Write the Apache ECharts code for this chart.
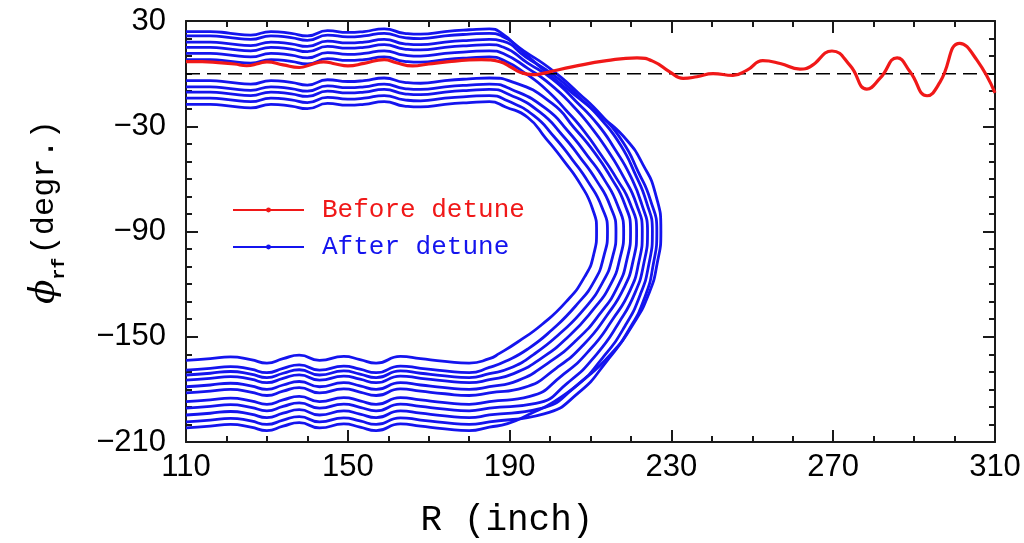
<!DOCTYPE html>
<html>
<head>
<meta charset="utf-8">
<script src="https://cdn.jsdelivr.net/npm/echarts@6/dist/echarts.min.js"></script>
<style>html,body{margin:0;padding:0;background:#fff}#c{width:1024px;height:543px}</style>
</head>
<body>
<div id="c"></div>
<script>
// ---- data ----
const xMin = 110, xMax = 310, xStep = 40;
const yMin = -210, yMax = 30, yStep = 60;

// Before detune (red)
const redR   = [110,114,118,122,125,128,130,134,138,141,144,147,150,154,159,162,166,170,175,180,183,187.6,190.5,192.6,195.8,198,200,205.7,214,221.5,225.5,229.6,232.9,236.3,240.3,245.2,248.7,252.6,256.9,261.8,264.3,269.7,274.2,278.3,281.6,285.8,289,293.2,296.4,301.3,305.5,310];
const redPhi = [6.8,6.8,6.3,5.5,4.5,5.8,6.7,5,3.5,5.2,6.7,5.5,4.4,5.8,8,6.2,4.4,5.5,6.8,7.8,8,6.8,3.5,0.8,-0.6,0,1.1,4,7.4,9,7,1,-2.7,-1.8,0,-1,2,7.4,5.8,2.6,3.9,12.9,4.6,-8.8,-2.6,9,1.1,-12.6,-4.9,17.3,7.8,-11];

// After detune (blue), 11 trajectories: upper branch, turn, lower branch
const topR = [110,116,121,126,131,136,140,145,150,154,159,164,168,174,180,185];
const blueTop = [
  [-17.5,-17.5,-18.5,-19.5,-17.5,-18.5,-20,-17,-18,-17.5,-16,-18.5,-19,-17.5,-16.5,-16],
  [-14,-14,-15,-16,-14,-15,-16.5,-13.5,-14.5,-14,-12.5,-15,-15.5,-14,-13,-12.5],
  [-10.5,-10.5,-11.5,-12.5,-10.5,-11.5,-13,-10,-11,-10.5,-9,-11.5,-12,-10.5,-9.5,-9],
  [-7.5,-7.5,-8.5,-9.5,-7.5,-8.5,-10,-7,-8,-7.5,-6,-8.5,-9,-7.5,-6.5,-6],
  [-4,-4,-5,-6,-4,-5,-6.5,-3.5,-4.5,-4,-2.5,-5,-5.5,-4,-3,-2.5],
  [8,8,7,6,8,7,5.5,8.5,7.5,8,9.5,7,6.5,8,9,9.5],
  [11.5,11.5,10.5,9.5,11.5,10.5,9,12,11,11.5,13,10.5,10,11.5,12.5,13],
  [15,15,14,13,15,14,12.5,15.5,14.5,15,16.5,14,13.5,15,16,16.5],
  [18,18,17,16,18,17,15.5,18.5,17.5,18,19.5,17,16.5,18,19,19.5],
  [21.5,21.5,20.5,19.5,21.5,20.5,19,22,21,21.5,23,20.5,20,21.5,22.5,23],
  [24,24,23,22,24,23,21.5,24.5,23.5,24,25.5,23,22.5,24,25,25.5]
];
const blueTurn = [
  [[189,-19],[194.5,-25],[199,-37],[203.5,-50],[207.5,-63],[210.5,-77],[211.5,-90],[210.8,-103],[208.5,-116],[204,-130],[198,-143],[192,-153],[187.5,-159.5]],
  [[189.5,-15.5],[196,-24],[201,-36],[205.5,-49],[209.5,-62],[212.8,-76],[214.2,-90],[213.3,-104],[211,-118],[206.5,-132],[200.5,-146],[194.5,-157],[189,-164]],
  [[190,-12],[197.5,-22],[203,-35],[207.5,-48],[211.5,-61],[214.8,-75],[216.3,-90],[215.4,-105],[213,-119],[208.5,-134],[202.5,-148],[196,-160],[190,-168]],
  [[190.5,-9],[199,-20],[204.5,-33],[209.3,-47],[213.3,-60],[216.7,-75],[218.2,-90],[217.3,-105],[215,-120],[210.5,-135],[204.5,-150],[198,-162],[191,-171]],
  [[191,-5],[200.5,-17],[206,-31],[211,-45],[215,-59],[218.4,-74],[219.9,-90],[219,-106],[216.8,-121],[212.3,-137],[206.5,-152],[199.5,-165],[192,-175]],
  [[189,7],[194,0],[199,-9],[204,-21],[208.5,-33],[212.5,-46],[216.5,-60],[219.8,-74],[221.4,-90],[220.5,-107],[218.3,-122],[214,-138],[208.5,-154],[201.5,-168],[193.5,-179]],
  [[188.8,11],[194.5,3],[200,-6],[205.5,-18],[210.3,-31],[214.3,-44],[218.2,-59],[221.3,-74],[222.8,-90],[221.9,-108],[219.7,-124],[215.5,-140],[210,-157],[203,-172],[195,-184]],
  [[188.5,15],[194.5,6],[200.5,-3],[206.5,-16],[211.8,-29],[216,-43],[219.8,-58],[222.6,-74],[224.1,-90],[223.2,-108],[221,-125],[217,-142],[211.5,-160],[204.5,-176],[196.5,-188]],
  [[188.3,18.5],[194,9.5],[201,-1],[207.5,-14],[213,-27],[217.5,-41],[221,-57],[223.8,-73],[225.3,-90],[224.4,-109],[222.3,-126],[218.5,-144],[213,-162],[206,-179],[197.5,-191]],
  [[188,21.5],[193.5,13],[200.5,2],[207,-11],[212.8,-24],[218,-39],[221.8,-56],[224.8,-72],[226.4,-90],[225.5,-109],[223.5,-127],[219.5,-146],[214,-164],[207,-182],[198.5,-194]],
  [[188,23],[193,13],[199,1],[206,-12],[213,-25],[219,-38],[223,-52],[226,-68],[227.4,-90],[226.5,-108],[224.5,-125],[220.5,-143],[215,-160],[208,-175],[201,-187],[195,-194],[189.5,-199.5]]
];
const botR = [185,180,174,168,163,157,153,149,143,138,134,130,126,121,116,110];
const blueBottom = [
  [-162.5,-165,-164,-162.5,-161.2,-165,-163,-161.2,-163.5,-160.5,-162.5,-165,-163,-161.5,-162.5,-163.5],
  [-167.5,-170.5,-169.5,-168,-166.7,-170.5,-168.5,-166.7,-169,-166,-168,-170.5,-168.5,-167,-168,-169],
  [-171,-173.3,-172.3,-170.8,-169.5,-173.3,-171.3,-169.5,-171.8,-168.8,-170.8,-173.3,-171.3,-169.8,-170.8,-171.8],
  [-174.5,-176.2,-175.2,-173.7,-172.4,-176.2,-174.2,-172.4,-174.7,-171.7,-173.7,-176.2,-174.2,-172.7,-173.7,-174.7],
  [-178.5,-180,-179,-177.5,-176.2,-180,-178,-176.2,-178.5,-175.5,-177.5,-180,-178,-176.5,-177.5,-178.5],
  [-182,-183.5,-182.5,-181,-179.7,-183.5,-181.5,-179.7,-182,-179,-181,-183.5,-181.5,-180,-181,-182],
  [-187,-188.5,-187.5,-186,-184.7,-188.5,-186.5,-184.7,-187,-184,-186,-188.5,-186.5,-185,-186,-187],
  [-190.7,-192.2,-191.2,-189.7,-188.4,-192.2,-190.2,-188.4,-190.7,-187.7,-189.7,-192.2,-190.2,-188.7,-189.7,-190.7],
  [-194.6,-196.1,-195.1,-193.6,-192.3,-196.1,-194.1,-192.3,-194.6,-191.6,-193.6,-196.1,-194.1,-192.6,-193.6,-194.6],
  [-198.5,-200,-199,-197.5,-196.2,-200,-198,-196.2,-198.5,-195.5,-197.5,-200,-198,-196.5,-197.5,-198.5],
  [-201.5,-203.5,-202.5,-201,-199.7,-203.5,-201.5,-199.7,-202,-199,-201,-203.5,-201.5,-200,-201,-202]
];
const refLine = [[110,0],[310,0]];

const RED = '#f01818', BLUE = '#1414ee';
const chart = echarts.init(document.getElementById('c'), null, {renderer:'canvas'});

const series = [];
blueTop.forEach((top, k) => {
  const data = topR.map((r, i) => [r, top[i]])
    .concat(blueTurn[k])
    .concat(botR.map((r, i) => [r, blueBottom[k][i]]));
  series.push({
    name: 'After detune', type: 'line', data, smooth: 0.55,
    showSymbol: false, symbol: 'circle', symbolSize: 3,
    lineStyle: {color: BLUE, width: 2.8}, itemStyle: {color: BLUE},
    silent: true, animation: false, z: 2
  });
});
series.push({
  name: 'zero', type: 'line', data: refLine, showSymbol: false,
  lineStyle: {color: '#000', width: 1.5, type: [14, 7]}, silent: true, animation: false, z: 3
});
series.push({
  name: 'Before detune', type: 'line', data: redR.map((r, i) => [r, redPhi[i]]),
  smooth: 0.5, showSymbol: false, symbol: 'circle', symbolSize: 3,
  lineStyle: {color: RED, width: 3.2}, itemStyle: {color: RED},
  silent: true, animation: false, z: 4
});

const axisCommon = {
  axisLine: {show: true, onZero: false, lineStyle: {color: '#1a1a1a', width: 2}},
  axisTick: {show: true, inside: true, length: 12, lineStyle: {color: '#1a1a1a', width: 2}},
  minorTick: {show: true, length: 6, lineStyle: {color: '#1a1a1a', width: 2}},
  splitLine: {show: false}
};
const yFmt = v => String(v).replace('-', '\u2212');

chart.setOption({
  animation: false,
  backgroundColor: '#fff',
  grid: {left: 186, right: 29, top: 21, bottom: 101},
  xAxis: [
    Object.assign({type: 'value', min: xMin, max: xMax, interval: xStep, position: 'bottom',
      axisLabel: {show: true, margin: 10, color: '#000', fontSize: 31, fontFamily: 'Liberation Sans'}}, axisCommon,
      {minorTick: Object.assign({}, axisCommon.minorTick, {splitNumber: 4})}),
    Object.assign({type: 'value', min: xMin, max: xMax, interval: xStep, position: 'top',
      axisLabel: {show: false}}, axisCommon,
      {minorTick: Object.assign({}, axisCommon.minorTick, {splitNumber: 4})})
  ],
  yAxis: [
    Object.assign({type: 'value', min: yMin, max: yMax, interval: yStep, position: 'left',
      axisLabel: {show: true, margin: 20, color: '#000', fontSize: 31, fontFamily: 'Liberation Sans', formatter: yFmt}}, axisCommon,
      {minorTick: Object.assign({}, axisCommon.minorTick, {splitNumber: 6})}),
    Object.assign({type: 'value', min: yMin, max: yMax, interval: yStep, position: 'right',
      axisLabel: {show: false}}, axisCommon,
      {minorTick: Object.assign({}, axisCommon.minorTick, {splitNumber: 6})})
  ],
  legend: {
    show: true, orient: 'vertical', left: 227, top: 192,
    itemWidth: 71, itemHeight: 6, itemGap: 11,
    selectedMode: false,
    data: [
      {name: 'Before detune', textStyle: {color: RED}},
      {name: 'After detune', textStyle: {color: BLUE}}
    ],
    textStyle: {fontSize: 26, fontFamily: 'Liberation Mono', padding: [0, 0, 0, 13]}
  },
  graphic: [
    {type: 'text', x: 507, y: 520, silent: true,
      style: {text: 'R (inch)', fill: '#000', font: '36px "Liberation Mono"', align: 'center', verticalAlign: 'middle'}},
    {type: 'text', x: 45, y: 212, rotation: Math.PI / 2, silent: true,
      style: {text: '{phi|\u03d5}{sub|rf} {lab|(degr.)}', align: 'center', verticalAlign: 'middle',
        rich: {
          phi: {fontSize: 36, fontFamily: 'DejaVu Serif', fontStyle: 'italic', fill: '#000', lineHeight: 46, verticalAlign: 'middle'},
          sub: {fontSize: 18, fontFamily: 'Liberation Mono', fontWeight: 'bold', fill: '#000', lineHeight: 46, verticalAlign: 'bottom', padding: [0, 0, 0, 0]},
          lab: {fontSize: 32, fontFamily: 'Liberation Mono', fill: '#000', lineHeight: 46, verticalAlign: 'middle'}
        }}}
  ],
  series
});
</script>
</body>
</html>
